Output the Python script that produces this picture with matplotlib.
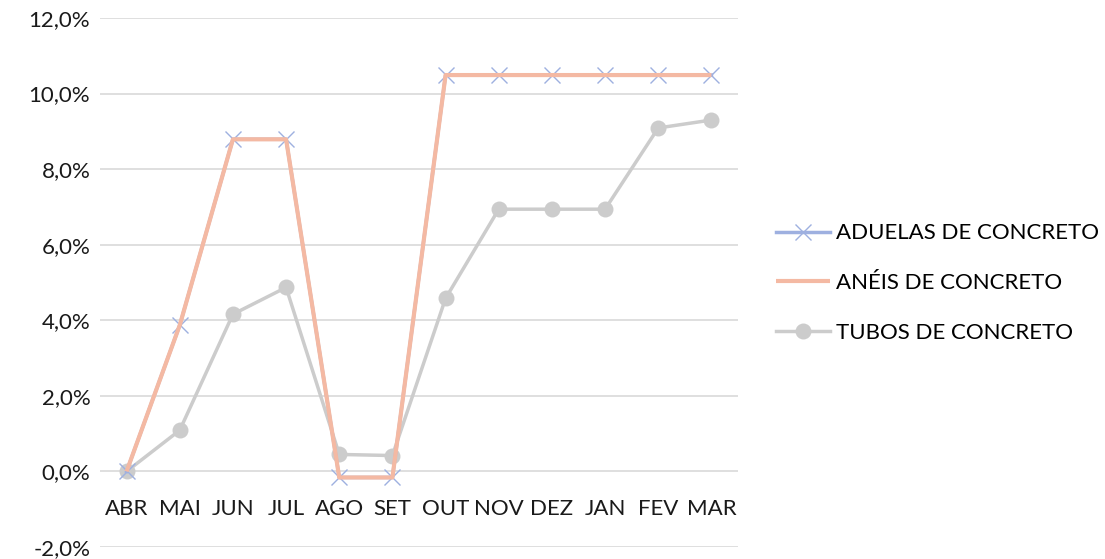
import matplotlib
matplotlib.use("Agg")
import matplotlib.pyplot as plt
from matplotlib.ticker import FuncFormatter, MultipleLocator

categories = ["ABR", "MAI", "JUN", "JUL", "AGO", "SET", "OUT", "NOV", "DEZ", "JAN", "FEV", "MAR"]
aduelas = [0.0, 3.87, 8.79, 8.79, -0.16, -0.16, 10.49, 10.49, 10.49, 10.49, 10.49, 10.49]
aneis = [0.0, 3.87, 8.79, 8.79, -0.16, -0.16, 10.49, 10.49, 10.49, 10.49, 10.49, 10.49]
tubos = [0.0, 1.09, 4.16, 4.87, 0.45, 0.42, 4.58, 6.94, 6.94, 6.94, 9.09, 9.30]
series_names = ["ADUELAS DE CONCRETO", "ANÉIS DE CONCRETO", "TUBOS DE CONCRETO"]

plt.rcParams['font.family'] = ['Lato', 'DejaVu Sans']
FS = 16

fig = plt.figure(figsize=(11.05, 5.59), dpi=100)
ax = fig.add_axes([100/1105, 1-547/559, 638/1105, 529/559])

x = list(range(len(categories)))
l1, = ax.plot(x, aduelas, color="#9EB0E0", lw=2.5, marker="x", markersize=11,
              markeredgewidth=1.0, markeredgecolor="#9EB0E0", zorder=3, label=series_names[0])
l2, = ax.plot(x, aneis, color="#F4B9A3", lw=3, solid_capstyle="butt", zorder=4, label=series_names[1])
l3, = ax.plot(x, tubos, color="#CCCCCC", lw=2.5, marker="o", markersize=11.5,
              markeredgewidth=0, zorder=2, label=series_names[2])

ax.set_xlim(-0.5, len(categories) - 0.5)
ax.set_ylim(-2, 12)
ax.yaxis.set_major_locator(MultipleLocator(2))
ax.yaxis.set_major_formatter(FuncFormatter(lambda v, p: f"{v:.1f}%".replace(".", ",")))
ax.grid(axis="y", color="#D9D9D9", lw=1.2, zorder=0)
for s in ax.spines.values():
    s.set_visible(False)
ax.tick_params(axis="y", length=0, labelsize=FS, pad=7, labelcolor="#1a1a1a")
ax.set_xticks([])
for i, c in enumerate(categories):
    ax.annotate(c, (i, 0), xytext=(0, -27), textcoords="offset points",
                ha="center", va="center", fontsize=FS, color="#1a1a1a")

fig.legend(handles=[l1, l2, l3], loc="center left", bbox_to_anchor=(776/1105, 1-283/559),
           frameon=False, fontsize=FS, handlelength=2.45, handletextpad=0.25,
           labelspacing=1.33, borderaxespad=0, borderpad=0)

fig.savefig("out.png", dpi=100)
